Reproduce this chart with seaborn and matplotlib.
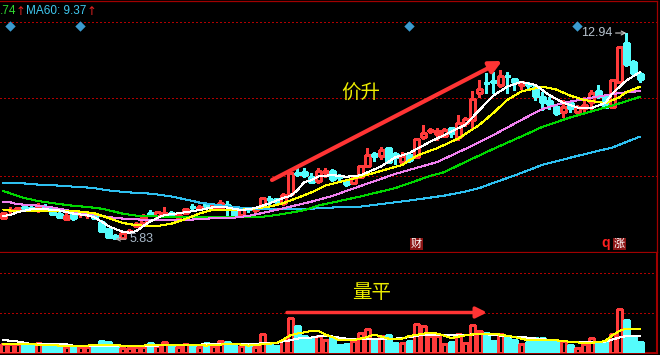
import numpy as np
import matplotlib
matplotlib.use("Agg")
import matplotlib.pyplot as plt
import seaborn as sns
from matplotlib.transforms import blended_transform_factory

# ---------------- data ----------------
opens = [6.56, 6.82, 6.82, 6.94, 6.91, 6.93, 6.93, 6.86, 6.69, 6.51,
         6.74, 6.69, 6.66, 6.69, 6.43, 6.17, 5.94, 5.86, 6.08, 6.28,
         6.40, 6.72, 6.63, 6.69, 6.74, 6.60, 6.72, 6.95, 6.89, 7.03,
         6.95, 6.86, 7.01, 6.86, 6.66, 6.90, 6.84, 6.89, 7.23, 7.20,
         7.07, 7.37, 8.12, 8.16, 7.98, 7.83, 8.15, 8.18, 7.99, 7.85,
         7.76, 7.98, 8.35, 8.77, 8.70, 8.96, 8.76, 8.50, 8.73, 8.67,
         9.36, 9.55, 9.46, 9.39, 9.65, 9.34, 9.83, 9.94, 10.86, 11.23,
         11.28, 11.15, 11.47, 11.34, 11.15, 11.19, 11.09, 10.74, 10.60, 10.40,
         10.23, 10.52, 10.23, 10.34, 10.57, 10.95, 10.77, 10.38, 11.26, 12.58,
         11.95, 11.53]
closes = [6.73, 6.85, 6.90, 6.91, 6.87, 6.97, 6.88, 6.69, 6.58, 6.64,
          6.55, 6.72, 6.70, 6.55, 6.12, 5.89, 5.87, 6.05, 6.12, 6.35,
          6.60, 6.67, 6.75, 6.72, 6.66, 6.65, 6.86, 6.93, 6.95, 6.98,
          7.01, 7.08, 6.96, 6.66, 6.86, 6.87, 6.89, 7.25, 7.20, 7.15,
          7.35, 8.10, 8.08, 8.04, 7.81, 8.18, 8.19, 7.89, 7.96, 7.73,
          7.93, 8.35, 8.73, 8.70, 8.90, 8.50, 8.66, 8.71, 8.56, 9.28,
          9.50, 9.59, 9.56, 9.59, 9.48, 9.83, 9.96, 10.65, 11.00, 11.20,
          11.24, 11.46, 11.44, 11.26, 11.26, 11.15, 10.78, 10.57, 10.49, 10.17,
          10.40, 10.34, 10.38, 10.46, 10.88, 10.77, 10.38, 11.32, 12.45, 11.87,
          11.55, 11.34]
highs = [6.78, 6.95, 6.94, 7.01, 6.97, 7.07, 7.04, 6.89, 6.77, 6.78,
         6.81, 6.80, 6.75, 6.72, 6.49, 6.20, 6.01, 6.12, 6.18, 6.42,
         6.69, 6.83, 6.80, 6.95, 6.80, 6.70, 6.89, 7.04, 7.01, 7.09,
         7.07, 7.18, 7.15, 6.89, 6.89, 6.95, 6.94, 7.27, 7.32, 7.26,
         7.41, 8.11, 8.27, 8.27, 8.10, 8.27, 8.29, 8.24, 8.08, 7.89,
         7.96, 8.39, 8.98, 8.85, 9.02, 9.00, 8.84, 8.85, 8.81, 9.32,
         9.77, 9.67, 9.66, 9.65, 9.69, 10.11, 10.05, 10.95, 11.32, 11.55,
         11.60, 11.66, 11.60, 11.38, 11.28, 11.26, 11.17, 10.92, 10.72, 10.46,
         10.63, 10.57, 10.46, 10.72, 10.97, 11.15, 10.80, 11.34, 12.47, 12.94,
         12.01, 11.61]
lows = [6.51, 6.71, 6.80, 6.83, 6.83, 6.78, 6.83, 6.66, 6.56, 6.49,
        6.49, 6.60, 6.55, 6.51, 6.08, 5.86, 5.83, 5.85, 6.04, 6.26,
        6.39, 6.66, 6.61, 6.66, 6.64, 6.55, 6.71, 6.83, 6.83, 6.95,
        6.89, 6.83, 6.66, 6.64, 6.64, 6.78, 6.77, 6.87, 7.01, 7.07,
        7.02, 7.35, 8.02, 7.98, 7.76, 7.76, 7.98, 7.85, 7.87, 7.66,
        7.73, 7.96, 8.32, 8.53, 8.58, 8.47, 8.42, 8.45, 8.50, 8.65,
        9.27, 9.48, 9.25, 9.34, 9.34, 9.25, 9.73, 9.66, 10.74, 10.86,
        10.86, 11.07, 10.88, 10.97, 11.00, 11.00, 10.63, 10.28, 10.31, 10.11,
        10.05, 10.23, 10.17, 10.17, 10.28, 10.69, 10.35, 10.34, 11.25, 11.80,
        11.53, 11.26]
volumes = [8.7, 8.7, 8.7, 8.7, 6.7, 10.3, 9.3, 8.0, 5.7, 6.3,
           5.7, 6.3, 6.3, 6.3, 11.7, 10.7, 7.3, 5.3, 5.3, 6.3,
           6.3, 9.7, 7.0, 11.3, 7.0, 6.3, 8.7, 7.7, 5.7, 9.7,
           6.7, 12.3, 10.7, 7.0, 7.0, 6.7, 6.3, 19.3, 9.3, 6.7,
           13.3, 35.3, 26.7, 16.7, 15.3, 16.7, 13.3, 16.0, 7.7, 8.7,
           11.7, 20.3, 24.3, 14.3, 17.3, 17.7, 9.7, 10.3, 11.7, 29.3,
           27.3, 16.7, 16.7, 9.3, 10.7, 19.3, 10.3, 28.3, 22.3, 19.7,
           11.7, 19.3, 16.3, 12.7, 9.3, 10.7, 14.7, 15.0, 12.7, 12.3,
           12.0, 7.7, 5.3, 9.3, 15.3, 10.0, 10.0, 19.3, 44.3, 33.3,
           17.3, 10.7]

# moving-average lines (read at sampled bars)
ma5_idx = [0, 1, 2, 4, 6, 8, 10, 12, 13, 14, 15, 16, 17, 18, 19, 20, 21, 22, 23, 25,
           28, 30, 32, 34, 36, 38, 40, 41, 42, 43, 44, 45, 47, 49, 51, 54, 56, 58, 61, 63,
           66, 68, 70, 72, 74, 76, 78, 80, 82, 84, 86, 87, 89, 91]
ma5_val = [6.63, 6.66, 6.76, 6.86, 6.86, 6.82, 6.71, 6.65, 6.58, 6.44, 6.28, 6.18, 6.09, 6.05,
           6.11, 6.28, 6.44, 6.56, 6.66, 6.72, 6.83, 6.93, 6.92, 6.83, 6.90, 7.06, 7.25, 7.32,
           7.51, 7.80, 7.86, 7.99, 8.04, 7.98, 8.03, 8.34, 8.65, 8.80, 9.19, 9.42, 9.77, 10.28,
           10.78, 11.09, 11.25, 11.15, 10.80, 10.53, 10.37, 10.35, 10.53, 10.85, 11.30, 11.60]
ma10_idx = [0, 2, 4, 7, 9, 11, 13, 15, 17, 19, 21, 22, 24, 26, 28, 30, 33, 35, 38, 40,
            42, 44, 46, 51, 57, 59, 62, 65, 68, 70, 72, 74, 77, 79, 81, 83, 86, 88, 89, 91]
ma10_val = [6.85, 6.78, 6.80, 6.80, 6.80, 6.78, 6.72, 6.56, 6.39, 6.31, 6.28, 6.28, 6.36, 6.52,
            6.71, 6.85, 6.83, 6.86, 6.95, 7.07, 7.25, 7.44, 7.68, 7.98, 8.39, 8.70, 8.97, 9.30,
            9.77, 10.18, 10.63, 10.92, 11.09, 10.99, 10.78, 10.63, 10.52, 10.72, 10.90, 11.09]
ma20_idx = [0, 1, 2, 4, 7, 9, 11, 13, 15, 17, 19, 21, 26, 28, 30, 33, 35, 38, 41, 44,
            47, 51, 56, 62, 66, 70, 74, 77, 80, 85, 88, 91]
ma20_val = [7.12, 7.10, 7.03, 7.01, 6.92, 6.83, 6.75, 6.68, 6.59, 6.54, 6.51, 6.49, 6.49, 6.52,
            6.55, 6.57, 6.63, 6.78, 6.95, 7.12, 7.32, 7.66, 8.08, 8.49, 8.94, 9.42, 9.94, 10.32,
            10.53, 10.75, 10.87, 10.94]
ma30_idx = [0, 1, 2, 3, 5, 6, 8, 10, 12, 14, 15, 17, 19, 23, 26, 29, 37, 39, 41, 43,
            45, 47, 51, 56, 61, 63, 66, 70, 74, 77, 81, 86, 88, 91]
ma30_val = [7.49, 7.41, 7.32, 7.25, 7.14, 7.11, 7.04, 6.98, 6.94, 6.88, 6.83, 6.71, 6.64, 6.60,
            6.59, 6.60, 6.60, 6.66, 6.74, 6.83, 6.99, 7.09, 7.30, 7.59, 8.01, 8.14, 8.49, 8.94,
            9.37, 9.70, 10.03, 10.37, 10.51, 10.74]
ma60_idx = [0, 3, 5, 7, 10, 12, 13, 15, 18, 20, 22, 24, 26, 27, 28, 30, 32, 35, 39, 41,
            44, 47, 51, 54, 58, 63, 66, 68, 70, 73, 77, 82, 87, 91]
ma60_val = [7.76, 7.75, 7.71, 7.69, 7.64, 7.61, 7.59, 7.51, 7.44, 7.42, 7.37, 7.30, 7.20, 7.15,
            7.09, 7.03, 6.96, 6.89, 6.86, 6.86, 6.88, 6.92, 6.95, 7.04, 7.16, 7.33, 7.47, 7.59,
            7.77, 8.02, 8.39, 8.70, 8.99, 9.37]

vol_ma5_idx = [0, 1, 4, 10, 15, 18, 23, 27, 29, 33, 35, 39, 40, 41, 42, 44, 45, 46, 47, 48,
               50, 52, 53, 55, 57, 58, 61, 62, 64, 66, 68, 70, 73, 75, 79, 81, 83, 85, 86, 87,
               88, 89, 91]
vol_ma5_val = [9.2, 8.7, 8.7, 6.8, 8.4, 6.8, 8.4, 8.4, 7.4, 9.4, 7.4, 10.0, 13.5, 17.7, 19.4,
               22.0, 22.0, 18.4, 16.0, 12.7, 12.7, 16.0, 18.4, 14.4, 14.4, 17.0, 20.4, 19.4, 15.0,
               17.7, 19.4, 19.4, 16.0, 12.7, 12.7, 11.2, 10.0, 10.7, 12.0, 17.7, 22.0, 24.4, 24.4]
vol_ma10_idx = [0, 2, 3, 4, 9, 10, 22, 23, 28, 29, 36, 37, 39, 40, 41, 42, 44, 45, 46, 47,
                48, 49, 56, 58, 60, 62, 63, 66, 69, 71, 73, 75, 77, 79, 81, 84, 86, 88, 89, 91]
vol_ma10_val = [13.0, 11.5, 10.3, 9.0, 8.7, 7.4, 7.4, 8.4, 8.4, 8.7, 8.7, 10.0, 10.0, 11.7,
                12.7, 14.4, 15.4, 16.7, 17.2, 16.5, 15.4, 14.4, 14.4, 15.8, 18.5, 18.0, 17.7,
                18.4, 18.7, 17.4, 16.2, 15.4, 13.7, 12.7, 11.2, 11.0, 11.5, 15.4, 17.0, 17.4]

event_idx = [1, 11, 58, 82]
tag_idx = [59, 88]
tag_text = ["财", "涨"]
q_idx = 86

# ---------------- styling ----------------
sns.set_theme(style="dark", rc={"axes.facecolor": "black", "figure.facecolor": "black",
                                "axes.grid": False})
plt.rcParams["font.family"] = ["Liberation Sans", "DejaVu Sans"]

RED = "#ff3b3b"
CYAN = "#54fcfc"
BORDER = "#a00000"
CJK = ["Noto Sans CJK SC", "DejaVu Sans"]

W, H = 660, 355
fig = plt.figure(figsize=(W / 100, H / 100), dpi=100)
fig.patch.set_facecolor("black")
ax = fig.add_axes([0, 103 / H, 657 / W, 251 / H])
axv = fig.add_axes([0, 2 / H, 657 / W, 100 / H])
for a in (ax, axv):
    a.set_facecolor("black")
    a.set_xticks([])
    a.set_yticks([])

x = np.arange(len(opens))
o = np.array(opens); c = np.array(closes); h = np.array(highs); l = np.array(lows)
up = c >= o
cols = np.where(up, RED, CYAN)

# wicks
ax.vlines(x, l, h, colors=cols, linewidth=0.75, zorder=2, antialiased=False)
# bodies
bottoms = np.minimum(o, c)
heights = np.maximum(np.abs(c - o), 0.004)
ax.bar(x, heights, bottom=bottoms, width=0.7, color=np.where(up, "black", CYAN),
       edgecolor=cols, linewidth=0.75, zorder=3, antialiased=False)

# moving averages
ma_sets = [(ma60_idx, ma60_val, "#2ec0f0"), (ma30_idx, ma30_val, "#00d800"),
           (ma20_idx, ma20_val, "#f080f0"), (ma10_idx, ma10_val, "#ffff00"),
           (ma5_idx, ma5_val, "#ffffff")]
for idx, vals, col in ma_sets:
    sns.lineplot(x=idx, y=vals, ax=ax, color=col, linewidth=0.75, legend=False,
                 estimator=None, zorder=4, antialiased=False)

# volume
axv.bar(x, volumes, width=0.72, color=np.where(up, "black", CYAN), edgecolor=cols,
        linewidth=0.75, zorder=3, antialiased=False)
sns.lineplot(x=vol_ma10_idx, y=vol_ma10_val, ax=axv, color="#ffffff", linewidth=0.75,
             legend=False, estimator=None, zorder=4, antialiased=False)
sns.lineplot(x=vol_ma5_idx, y=vol_ma5_val, ax=axv, color="#ffff00", linewidth=0.75,
             legend=False, estimator=None, zorder=4, antialiased=False)

xlim = (-3.3 / 7, (657 - 3.3) / 7)
ax.set_xlim(*xlim); axv.set_xlim(*xlim)
ax.set_ylim(5.385, 14.0445)
axv.set_ylim(0, 100)
for a in (ax, axv):
    a.set_xlabel(""); a.set_ylabel("")
    a.set_xticks([]); a.set_yticks([])

# dotted guide lines
for fr in (0.9163, 0.6124, 0.304):
    ax.plot([0, 1], [fr, fr], transform=ax.transAxes, color="#b00000", lw=0.75,
            ls=(0, (1, 2)), zorder=1, antialiased=False)
for fr in (0.797, 0.397):
    axv.plot([0, 1], [fr, fr], transform=axv.transAxes, color="#b00000", lw=0.75,
             ls=(0, (1, 2)), zorder=1, antialiased=False)

# borders
for name, sp in ax.spines.items():
    sp.set_visible(name in ("top", "right", "bottom"))
    sp.set_color(BORDER); sp.set_linewidth(0.9)
for name, sp in axv.spines.items():
    sp.set_visible(name in ("right", "bottom"))
    sp.set_color(BORDER); sp.set_linewidth(1.5)

# event diamonds and tags
bt = blended_transform_factory(ax.transData, ax.transAxes)
ax.scatter(event_idx, [0.9004] * len(event_idx), transform=bt, marker="D", s=28,
           color="#3a9bd0", linewidths=0, zorder=6)
for ti, tt in zip(tag_idx, tag_text):
    ax.text(ti, 0.032, tt, transform=bt, ha="center", va="center", fontsize=8,
            color="white", family=CJK, zorder=6,
            bbox=dict(boxstyle="square,pad=0.08", fc="#8b1414", ec="none"))
ax.text(q_idx, 0.034, "q", transform=bt, ha="center", va="center", fontsize=10,
        color="#ff2020", fontweight="bold", zorder=6)

# high / low annotations
imax = int(np.argmax(h)); imin = int(np.argmin(l))
ax.annotate(f"{h[imax]:.2f}", xy=(imax, h[imax]), xytext=(-14, 0), textcoords="offset pixels",
            ha="right", va="center", fontsize=9, color="#b8c4d0", zorder=7,
            arrowprops=dict(arrowstyle="->", color="#c8c8c8", lw=0.8, shrinkA=0, shrinkB=0,
                            mutation_scale=7))
ax.annotate(f"{l[imin]:.2f}", xy=(imin, l[imin]), xytext=(14, 0), textcoords="offset pixels",
            ha="left", va="center", fontsize=9, color="#a8b8c8", zorder=7,
            arrowprops=dict(arrowstyle="->", color="#b0b0b0", lw=0.8, shrinkA=0, shrinkB=0,
                            mutation_scale=7))

# trend arrows and captions
ax.annotate("", xy=(502, H - 61), xytext=(272, H - 180), xycoords="figure pixels",
            textcoords="figure pixels",
            arrowprops=dict(arrowstyle="-|>", color="#ff3434", lw=3, mutation_scale=18,
                            shrinkA=0, shrinkB=0), zorder=8)
axv.annotate("", xy=(487, H - 312.5), xytext=(287, H - 312.5), xycoords="figure pixels",
             textcoords="figure pixels",
             arrowprops=dict(arrowstyle="-|>", color="#ff3434", lw=2.5, mutation_scale=16,
                             shrinkA=0, shrinkB=0), zorder=8)
fig.text(361 / W, 1 - 93 / H, "价升", ha="center", va="center", fontsize=14,
         color="#eeee00", family=CJK)
fig.text(372 / W, 1 - 292 / H, "量平", ha="center", va="center", fontsize=14,
         color="#eeee00", family=CJK)

# top-left legend text (MA30 value is shown clipped to its decimals, as in the source)
ty = 1 - 11.5 / H
ma30_txt = f"{ma30_val[-1]:.2f}"
fig.text(0 / W, ty, ma30_txt[ma30_txt.index("."):], ha="left", va="center", fontsize=8.5,
         color="#30d830")
fig.text(16 / W, ty, "↑", ha="left", va="center", fontsize=8.5, color="#e02020",
         family=["DejaVu Sans"])
fig.text(26 / W, ty, f"MA60: {ma60_val[-1]:.2f}", ha="left", va="center", fontsize=8.5,
         color="#40c8f0")
fig.text(87 / W, ty, "↑", ha="left", va="center", fontsize=8.5, color="#e02020",
         family=["DejaVu Sans"])

fig.savefig("out.png", dpi=100, facecolor="black")
